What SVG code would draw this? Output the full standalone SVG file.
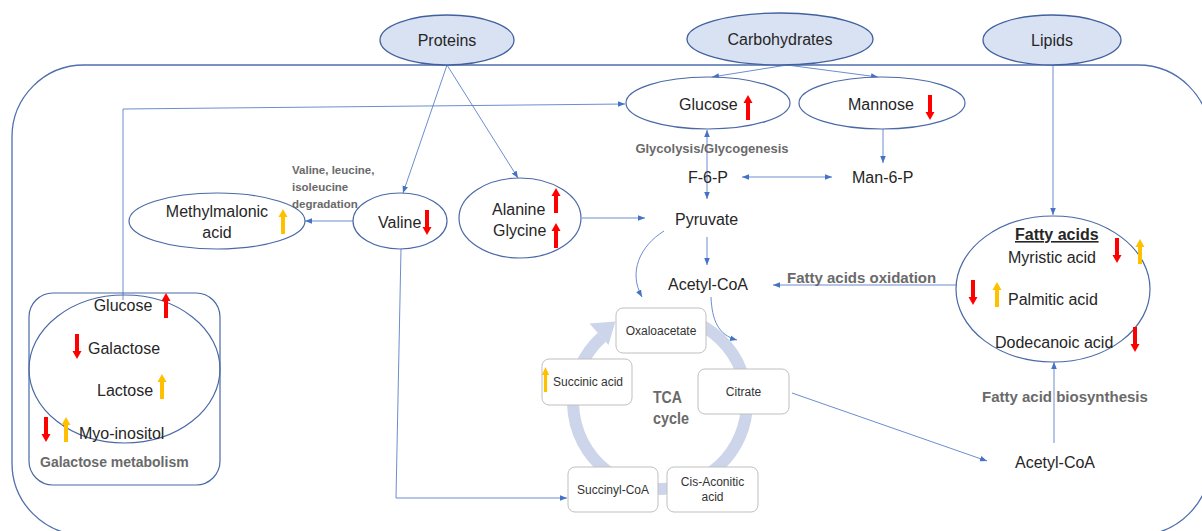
<svg xmlns="http://www.w3.org/2000/svg" xmlns:xlink="http://www.w3.org/1999/xlink" width="1202" height="531" viewBox="0 0 1202 531">
  <style>
    .cell { fill: none; stroke: #4f6fae; stroke-width: 1.3; }
    .src { fill: #d9e2f3; stroke: #41609e; stroke-width: 1.3; }
    .node { fill: #ffffff; stroke: #4a69a6; stroke-width: 1.2; }
    .grp { fill: none; stroke: #4a69a6; stroke-width: 1.2; }
    .box { fill: #ffffff; stroke: #bfbfbf; stroke-width: 1; }
    .edge { fill: none; stroke: #5b80c8; stroke-width: 0.9; }
    .ring { fill: none; stroke: #cdd5ea; stroke-width: 12; }
    .t { font-family: "Liberation Sans", Arial, sans-serif; font-size: 16px; fill: #262626; }
    .sm { font-family: "Liberation Sans", Arial, sans-serif; font-size: 12px; fill: #333333; }
    .lbl { font-family: "Liberation Sans", Arial, sans-serif; font-weight: bold; fill: #6a6a6a; }
    .mid { text-anchor: middle; }
    .r { fill: #ff0000; }
    .o { fill: #ffc000; }
  </style>
  <defs>
    <marker id="ah" viewBox="0 0 10 10" refX="10" refY="5" markerWidth="7" markerHeight="7" markerUnits="userSpaceOnUse" orient="auto-start-reverse">
      <path d="M0,1 L10,5 L0,9 Z" fill="#4472c4"/>
    </marker>
    <!-- block arrows for up / down regulation -->
    <path id="ua" d="M0,0 L4.5,8 L2,8 L2,25 L-2,25 L-2,8 L-4.5,8 Z"/>
    <path id="da" d="M0,25 L4.5,17 L2,17 L2,0 L-2,0 L-2,17 L-4.5,17 Z"/>
  </defs>

  <rect id="white" x="0" y="0" width="1202" height="531" fill="#ffffff"/>

  <!-- cell boundary -->
  <rect id="cell" class="cell" x="12" y="65" width="1198" height="470" rx="72" ry="72"/>

  <!-- TCA cycle ring -->
  <g id="tca-ring">
    <path class="ring" d="M689.8,320.2 A87,87 0 1 1 601.8,337.3"/>
    <path d="M608.5,345 L589.5,323.5 L615.4,321.5 Z" fill="#cdd5ea"/>
  </g>

  <!-- connectors -->
  <g id="connectors">
    <path class="edge" d="M787,65 L712,77" marker-end="url(#ah)"/>
    <path class="edge" d="M787,65 L878,77" marker-end="url(#ah)"/>
    <path class="edge" d="M447,65 L403,193" marker-end="url(#ah)"/>
    <path class="edge" d="M447,65 L518,178" marker-end="url(#ah)"/>
    <path class="edge" d="M1053,65 L1053,215" marker-end="url(#ah)"/>
    <path class="edge" d="M123,300 L123,109 L625,104" marker-end="url(#ah)"/>
    <path class="edge" d="M707,130 L707,199" marker-start="url(#ah)" marker-end="url(#ah)"/>
    <path class="edge" d="M742,177 L832,177" marker-start="url(#ah)" marker-end="url(#ah)"/>
    <path class="edge" d="M883,129 L883,163" marker-end="url(#ah)"/>
    <path class="edge" d="M582,218 L645,218" marker-end="url(#ah)"/>
    <path class="edge" d="M707,237 L707,265" marker-end="url(#ah)"/>
    <path class="edge" d="M956,285 L773,285" marker-end="url(#ah)"/>
    <path class="edge" d="M354,221 L305,221" marker-end="url(#ah)"/>
    <path class="edge" d="M401,249 L396,498 L567,498" marker-end="url(#ah)"/>
    <path class="edge" d="M792,393 L987,461" marker-end="url(#ah)"/>
    <path class="edge" d="M1054,443 L1054,362" marker-end="url(#ah)"/>
    <path class="edge" d="M664,231 C640,246 628,272 642,297" marker-end="url(#ah)"/>
    <path class="edge" d="M711,297 C712,320 718,335 737,340" marker-end="url(#ah)"/>
  </g>

  <!-- sources -->
  <g id="proteins">
    <ellipse class="src" cx="447" cy="40" rx="67" ry="25"/>
    <text class="t mid" x="447" y="46">Proteins</text>
  </g>
  <g id="carbohydrates">
    <ellipse class="src" cx="780" cy="39" rx="93" ry="26"/>
    <text class="t mid" x="780" y="45">Carbohydrates</text>
  </g>
  <g id="lipids">
    <ellipse class="src" cx="1052" cy="40" rx="69" ry="25"/>
    <text class="t mid" x="1052" y="46">Lipids</text>
  </g>

  <!-- carbohydrate branch -->
  <g id="glucose">
    <ellipse class="node" cx="708" cy="103" rx="82" ry="26"/>
    <text class="t" x="679" y="110">Glucose</text>
    <use href="#ua" x="748" y="95" class="r"/>
  </g>
  <g id="mannose">
    <ellipse class="node" cx="882" cy="103" rx="83" ry="26"/>
    <text class="t" x="848" y="110">Mannose</text>
    <use href="#da" x="930" y="95" class="r"/>
  </g>
  <text id="glycolysis" class="lbl mid" x="712" y="152.5" font-size="13">Glycolysis/Glycogenesis</text>
  <g id="f6p"><text class="t" x="688" y="182.5">F-6-P</text></g>
  <g id="man6p"><text class="t" x="852" y="182.5">Man-6-P</text></g>
  <g id="pyruvate"><text class="t" x="675" y="224.5">Pyruvate</text></g>
  <g id="acetylcoa"><text class="t" x="668" y="289.5">Acetyl-CoA</text></g>
  <text id="fa-oxidation" class="lbl" x="787" y="282.5" font-size="15">Fatty acids oxidation</text>

  <!-- amino acids -->
  <g id="alanine-glycine">
    <ellipse class="node" cx="520" cy="218" rx="61" ry="40"/>
    <text class="t" x="492" y="214.5">Alanine</text>
    <text class="t" x="493" y="235.5">Glycine</text>
    <use href="#ua" x="556" y="188" class="r"/>
    <use href="#ua" x="556" y="223" class="r"/>
  </g>
  <g id="valine">
    <ellipse class="node" cx="400" cy="221" rx="47" ry="28"/>
    <text class="t" x="378" y="227.5">Valine</text>
    <use href="#da" x="427" y="210" class="r"/>
  </g>
  <g id="methylmalonic">
    <ellipse class="node" cx="217" cy="221" rx="88" ry="28"/>
    <text class="t mid" x="217" y="216.5">Methylmalonic</text>
    <text class="t mid" x="217" y="237.5">acid</text>
    <use href="#ua" x="283" y="209" class="o"/>
  </g>
  <g id="bcaa-label" class="lbl" font-size="11.5">
    <text x="292" y="174">Valine, leucine,</text>
    <text x="292" y="191">isoleucine</text>
    <text x="292" y="207.5">degradation</text>
  </g>

  <!-- galactose metabolism -->
  <g id="galactose-metabolism">
    <rect class="grp" x="29" y="293" width="191" height="192" rx="24" ry="24"/>
    <ellipse class="grp" cx="124.5" cy="369" rx="95.5" ry="74"/>
    <text class="t mid" x="123" y="310.5">Glucose</text>
    <use href="#ua" x="166" y="293" class="r"/>
    <text class="t" x="88" y="353.5">Galactose</text>
    <use href="#da" x="77" y="334" class="r"/>
    <text class="t" x="97" y="395.5">Lactose</text>
    <use href="#ua" x="162" y="374" class="o"/>
    <text class="t" x="79" y="438.5">Myo-inositol</text>
    <use href="#da" x="46" y="417" class="r"/>
    <use href="#ua" x="66" y="417" class="o"/>
    <text class="lbl" x="40" y="467" font-size="14">Galactose metabolism</text>
  </g>

  <!-- fatty acids -->
  <g id="fatty-acids">
    <ellipse class="node" cx="1053" cy="289" rx="97" ry="73"/>
    <text class="t" x="1015" y="240" font-size="15" font-weight="bold" text-decoration="underline">Fatty acids</text>
    <text class="t" x="1008" y="262.5">Myristic acid</text>
    <use href="#da" x="1117" y="238" class="r"/>
    <use href="#ua" x="1140" y="239" class="o"/>
    <text class="t" x="1008" y="304.5">Palmitic acid</text>
    <use href="#da" x="973" y="280" class="r"/>
    <use href="#ua" x="997" y="282" class="o"/>
    <text class="t" x="995" y="347.5">Dodecanoic acid</text>
    <use href="#da" x="1135" y="327" class="r"/>
  </g>
  <text id="fa-biosynthesis" class="lbl" x="982" y="402" font-size="15">Fatty acid biosynthesis</text>
  <g id="acetylcoa-2"><text class="t" x="1015" y="467.5">Acetyl-CoA</text></g>

  <!-- TCA cycle intermediates -->
  <g id="oxaloacetate">
    <rect class="box" x="616" y="308" width="90" height="45" rx="7"/>
    <text class="sm mid" x="661" y="335">Oxaloacetate</text>
  </g>
  <g id="succinic-acid">
    <rect class="box" x="542" y="359" width="90" height="46" rx="7"/>
    <text class="sm" x="553" y="386">Succinic acid</text>
    <use href="#ua" x="545.5" y="367" class="o" transform="translate(545.5 367) scale(0.8 1) translate(-545.5 -367)"/>
  </g>
  <g id="citrate">
    <rect class="box" x="698" y="369" width="91" height="45" rx="7"/>
    <text class="sm mid" x="743.5" y="395.5">Citrate</text>
  </g>
  <g id="succinyl-coa">
    <rect class="box" x="568" y="467" width="90" height="45" rx="7"/>
    <text class="sm mid" x="613" y="494">Succinyl-CoA</text>
  </g>
  <g id="cis-aconitic">
    <rect class="box" x="667" y="467" width="91" height="45" rx="7"/>
    <text class="sm mid" x="712.5" y="486">Cis-Aconitic</text>
    <text class="sm mid" x="712.5" y="500.5">acid</text>
  </g>
  <g id="tca-label" class="lbl" font-size="17">
    <text x="653" y="403" textLength="29" lengthAdjust="spacingAndGlyphs">TCA</text>
    <text x="653" y="424" textLength="36" lengthAdjust="spacingAndGlyphs">cycle</text>
  </g>
</svg>
